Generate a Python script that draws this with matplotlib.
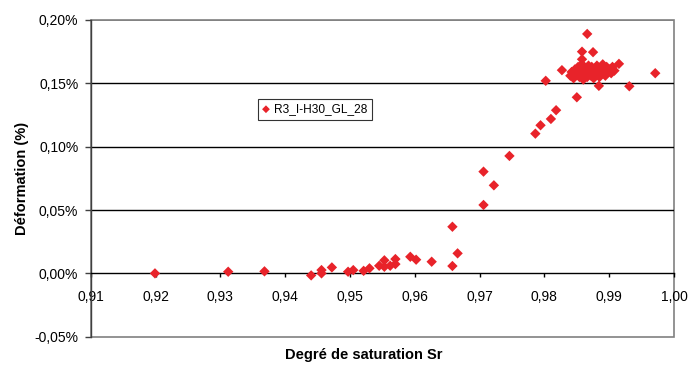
import matplotlib
matplotlib.use("Agg")
import matplotlib.pyplot as plt
from matplotlib.patches import Rectangle
from matplotlib.ticker import FuncFormatter, FixedLocator

plt.rcParams['font.family'] = ['Liberation Sans', 'DejaVu Sans']

series_name = "R3_I-H30_GL_28"
sr = [0.9199, 0.9312, 0.9368, 0.9440, 0.9456, 0.9456, 0.9472, 0.9497, 0.9505, 0.9521,
      0.9530, 0.9545, 0.9553, 0.9553, 0.9562, 0.9570, 0.9570, 0.9593, 0.9602, 0.9626,
      0.9658, 0.9658, 0.9666, 0.9706, 0.9706, 0.9722, 0.9746, 0.9786, 0.9794, 0.9810,
      0.9818, 0.9850, 0.9802, 0.9827, 0.9866, 0.9858, 0.9875, 0.9858, 0.9915, 0.9971,
      0.9931, 0.9884,
      0.9840, 0.9842, 0.9845, 0.9847, 0.9850, 0.9852, 0.9854, 0.9856, 0.9858, 0.9858,
      0.9860, 0.9862, 0.9863, 0.9865, 0.9866, 0.9868, 0.9869, 0.9870, 0.9872, 0.9873,
      0.9875, 0.9876, 0.9878, 0.9880, 0.9881, 0.9883, 0.9885, 0.9886, 0.9888, 0.9890,
      0.9892, 0.9894, 0.9896, 0.9898, 0.9900, 0.9903, 0.9905, 0.9908]
deformation = [0.000, 0.0013, 0.0016, -0.0016, 0.0026, 0.0000, 0.0047, 0.0013, 0.0026, 0.0020,
               0.0040, 0.0060, 0.0103, 0.0052, 0.0060, 0.0113, 0.0073, 0.0131, 0.0108, 0.0092,
               0.0368, 0.0058, 0.0158, 0.0540, 0.0803, 0.0695, 0.0927, 0.1103, 0.1169, 0.1219,
               0.1288, 0.1390, 0.1520, 0.1604, 0.1890, 0.1750, 0.1746, 0.1690, 0.1654, 0.1580,
               0.1477, 0.1480,
               0.156, 0.159, 0.154, 0.161, 0.157, 0.163, 0.155, 0.160, 0.158, 0.165,
               0.153, 0.162, 0.157, 0.160, 0.155, 0.164, 0.158, 0.161, 0.156, 0.163,
               0.159, 0.154, 0.161, 0.157, 0.164, 0.160, 0.155, 0.162, 0.158, 0.165,
               0.160, 0.156, 0.163, 0.159, 0.161, 0.158, 0.163, 0.160]
x_ticks = [0.91, 0.92, 0.93, 0.94, 0.95, 0.96, 0.97, 0.98, 0.99, 1.00]
y_ticks = [-0.05, 0.00, 0.05, 0.10, 0.15, 0.20]

fig = plt.figure(figsize=(6.88, 3.69), dpi=100)
ax = fig.add_axes([0.132, 0.0875, 0.8477, 0.8583])
ax.set_xlim(0.91, 1.00)
ax.set_ylim(-0.05, 0.20)

# gridlines
for yv in [0.05, 0.10, 0.15]:
    ax.axhline(yv, color='#000000', lw=1.0, zorder=1)
ax.axhline(0.20, color='#808080', lw=1.2, zorder=1)

# frame
for s in ['top', 'right']:
    ax.spines[s].set_visible(False)
ax.add_patch(Rectangle((0, 0), 1, 1, transform=ax.transAxes, fill=False,
                       edgecolor='#808080', lw=1.2, clip_on=False, zorder=0))
ax.spines['left'].set_color('#404040')
ax.spines['left'].set_linewidth(1.0)
ax.spines['bottom'].set_position(('data', 0))
ax.spines['bottom'].set_color('#000000')
ax.spines['bottom'].set_linewidth(1.0)

ax.scatter(sr, deformation, marker='D', s=28, color='#E8232A', edgecolors='none',
           zorder=3, label=series_name)

ax.xaxis.set_major_locator(FixedLocator(x_ticks))
ax.yaxis.set_major_locator(FixedLocator(y_ticks))
ax.xaxis.set_major_formatter(FuncFormatter(lambda v, p: f"{v:.2f}".replace('.', ',')))
ax.yaxis.set_major_formatter(FuncFormatter(lambda v, p: f"{v:.2f}%".replace('.', ',')))
ax.tick_params(axis='x', direction='out', length=3, width=1, pad=9, labelsize=10, color='#000000')
ax.tick_params(axis='y', direction='out', length=4, width=1, pad=5, labelsize=10, color='#404040')

fig.text(0.528, 0.018, "Degré de saturation Sr", ha='center', va='bottom',
         fontsize=10.5, fontweight='bold')
fig.text(0.032, 0.517, "Déformation (%)", ha='center', va='center', rotation=90,
         fontsize=10.5, fontweight='bold')

leg = ax.legend(loc='upper left', bbox_to_anchor=(0.287, 0.75), frameon=True,
                fancybox=False, edgecolor='#000000', fontsize=8.6, handlelength=0.6,
                handletextpad=0.4, borderpad=0.35, borderaxespad=0, markerscale=0.75)
leg.get_frame().set_linewidth(0.8)

fig.savefig("out.png", dpi=100)
